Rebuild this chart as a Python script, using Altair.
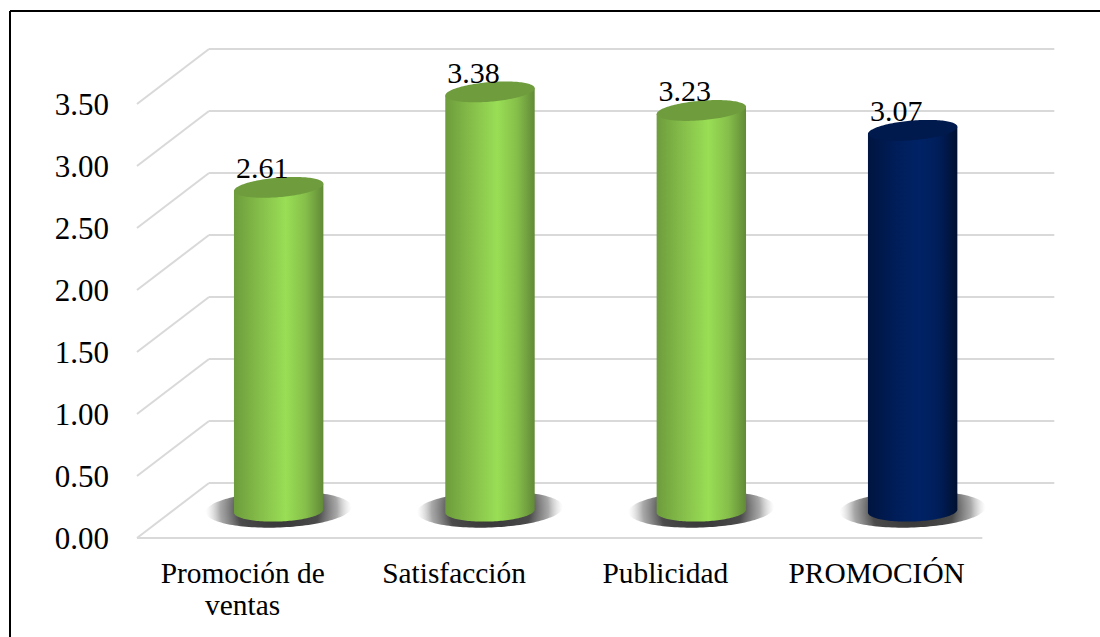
import altair as alt
import numpy as np
import pandas as pd

# Chart values
categories = ["Promoción de\nventas", "Satisfacción", "Publicidad", "PROMOCIÓN"]
values = [2.61, 3.38, 3.23, 3.07]
tick_values = [0.0, 0.5, 1.0, 1.5, 2.0, 2.5, 3.0, 3.5]

# Drawing size and the pseudo-3D projection, all in pixels
PLOT_W, PLOT_H = 1090, 626
FRONT_X0, FRONT_Y0 = 127, 527      # front corner of the floor inside the plot
BAND_PX, UNIT_PX = 211.33, 124.0   # pixels per category and per value unit
RATIO = BAND_PX / UNIT_PX          # turns a pixel slope into a slope between the two scales
DEPTH_X = 72 / BAND_PX             # wall offset along the x scale
DEPTH_Y = 55 / UNIT_PX             # wall offset along the y scale
CYL_Y = 27 / UNIT_PX               # cylinder base sits halfway up the floor
CYL_A = 44.7 / BAND_PX             # cylinder half width
TOP_B, TOP_TILT = 9.8 / UNIT_PX, 3.6 / 44.7 * RATIO
BASE_B, BASE_TILT = 10.5 / UNIT_PX, 1.5 / 44.7 * RATIO
SHADOW_A, SHADOW_B, SHADOW_TILT = 73 / BAND_PX, 18 / UNIT_PX, 2.5 / 71 * RATIO
SHADOW_DY = 1.5 / UNIT_PX
TICK_LABEL_X = -28 / BAND_PX       # right edge of the value labels, left of the floor corner
SERIF = "Liberation Serif"

x_scale = alt.Scale(domain=[-FRONT_X0 / BAND_PX, (PLOT_W - FRONT_X0) / BAND_PX], nice=False, zero=False)
y_scale = alt.Scale(domain=[(FRONT_Y0 - PLOT_H) / UNIT_PX, FRONT_Y0 / UNIT_PX], nice=False, zero=False)
X = lambda f: alt.X(f, type="quantitative", scale=x_scale, axis=None)
Y = lambda f: alt.Y(f, type="quantitative", scale=y_scale, stack=None, axis=None)


def arc_frame(name, cx, cy, a, b, tilt, upper_cy=None):
    """Sample an ellipse across its width; `upper_cy` replaces the top edge with a straight-topped body."""
    t = np.linspace(np.pi, 0, 72)
    dx = a * np.cos(t)
    root = b * np.sin(t)
    upper = (cy + tilt * dx + root) if upper_cy is None else (upper_cy + TOP_TILT * dx)
    return pd.DataFrame({"name": name, "x": cx + dx, "lower": cy + tilt * dx - root, "upper": upper})


def area_layer(frame, fill):
    return alt.Chart(frame).mark_area(color=fill, opacity=1, line=False, clip=False).encode(
        x=X("x"), y=Y("lower"), y2="upper", detail="name:N"
    )


def cylinder_fill(stops):
    return alt.LinearGradient(
        gradient="linear", x1=0, x2=1, y1=0, y2=0,
        stops=[alt.GradientStop(offset=o, color=c) for o, c in stops],
    )


shadow_fill = alt.RadialGradient(
    gradient="radial", x1=0.5, y1=0.5, r1=0, x2=0.5, y2=0.5, r2=0.5,
    stops=[
        alt.GradientStop(offset=0, color="rgba(50,50,50,1)"),
        alt.GradientStop(offset=0.55, color="rgba(65,65,65,0.95)"),
        alt.GradientStop(offset=0.8, color="rgba(110,110,110,0.6)"),
        alt.GradientStop(offset=1, color="rgba(190,190,190,0)"),
    ],
)

# Wall grid, floor diagonals and the front axis line
ticks = np.array(tick_values)
wall = pd.DataFrame({"x": DEPTH_X, "x2": 4 + DEPTH_X, "y": ticks + DEPTH_Y, "y2": ticks + DEPTH_Y})
side = pd.DataFrame({"x": 0.0, "x2": DEPTH_X, "y": ticks, "y2": ticks + DEPTH_Y})
front = pd.DataFrame({"x": [0.0], "x2": [4.0], "y": [0.0], "y2": [0.0]})
grid = alt.Chart(pd.concat([wall, side, front])).mark_rule(color="#d9d9d9", strokeWidth=2).encode(
    x=X("x"), x2="x2", y=Y("y"), y2="y2"
)

# Value scale labels to the left of the floor corner
tick_frame = pd.DataFrame({"x": TICK_LABEL_X, "v": tick_values})
tick_labels = alt.Chart(tick_frame).mark_text(
    font=SERIF, fontSize=31, color="#000000", baseline="alphabetic", align="right", dy=11
).encode(x=X("x"), y=Y("v"), text=alt.Text("v:Q", format=".2f"))

layers = [grid, tick_labels]
centers = [i + 0.5 + DEPTH_X / 2 for i in range(len(values))]

shadows = pd.concat(
    arc_frame(f"s{i}", c, CYL_Y + SHADOW_DY, SHADOW_A, SHADOW_B, SHADOW_TILT) for i, c in enumerate(centers)
)
layers.append(area_layer(shadows, shadow_fill))

green = [(0, "#6d9c3c"), (0.3, "#86bf4a"), (0.58, "#99de55"), (0.8, "#86bf4a"), (1, "#628a37")]
navy = [(0, "#001540"), (0.3, "#001d58"), (0.58, "#002366"), (0.8, "#001d58"), (1, "#00102f")]
palette = [(green, "#6f9d3e")] * 3 + [(navy, "#001a4e")]
for i, (c, v) in enumerate(zip(centers, values)):
    body_stops, top_fill = palette[i]
    top = CYL_Y + v
    layers.append(area_layer(arc_frame(f"b{i}", c, CYL_Y, CYL_A, BASE_B, BASE_TILT, upper_cy=top), cylinder_fill(body_stops)))
    layers.append(area_layer(arc_frame(f"t{i}", c, top, CYL_A, TOP_B, TOP_TILT), top_fill))

# Value labels above each cylinder
value_frame = pd.DataFrame({"x": centers, "y": [CYL_Y + v for v in values], "v": values})
layers.append(
    alt.Chart(value_frame).mark_text(
        font=SERIF, fontSize=30, color="#000000", baseline="alphabetic", align="center", dx=-16.5, dy=-9
    ).encode(x=X("x"), y=Y("y"), text=alt.Text("v:Q", format=".2f"))
)

# Category labels under the front axis
cat_frame = pd.DataFrame({"x": [i + 0.5 for i in range(len(categories))], "y": 0.0, "label": categories})
layers.append(
    alt.Chart(cat_frame).mark_text(
        font=SERIF, fontSize=29.4, color="#000000", baseline="alphabetic", align="center",
        lineBreak="\n", lineHeight=32, dy=45,
    ).encode(x=X("x"), y=Y("y"), text="label:N")
)

# Frame lines along the top and left of the picture
layers.append(
    alt.Chart(pd.DataFrame({"k": [0]})).mark_rule(color="#000000", strokeWidth=2).encode(
        x=alt.value(0), x2=alt.value(PLOT_W), y=alt.value(0)
    )
)
layers.append(
    alt.Chart(pd.DataFrame({"k": [0]})).mark_rule(color="#000000", strokeWidth=2).encode(
        x=alt.value(0), y=alt.value(0), y2=alt.value(PLOT_H)
    )
)

chart = alt.layer(*layers).properties(
    width=PLOT_W, height=PLOT_H,
    padding={"left": 10, "top": 11, "right": 0, "bottom": 0},
    autosize=alt.AutoSizeParams(type="none"),
    background="#ffffff",
).configure_view(stroke=None)

chart.save("out.html", embed_options={"renderer": "svg", "actions": False})
